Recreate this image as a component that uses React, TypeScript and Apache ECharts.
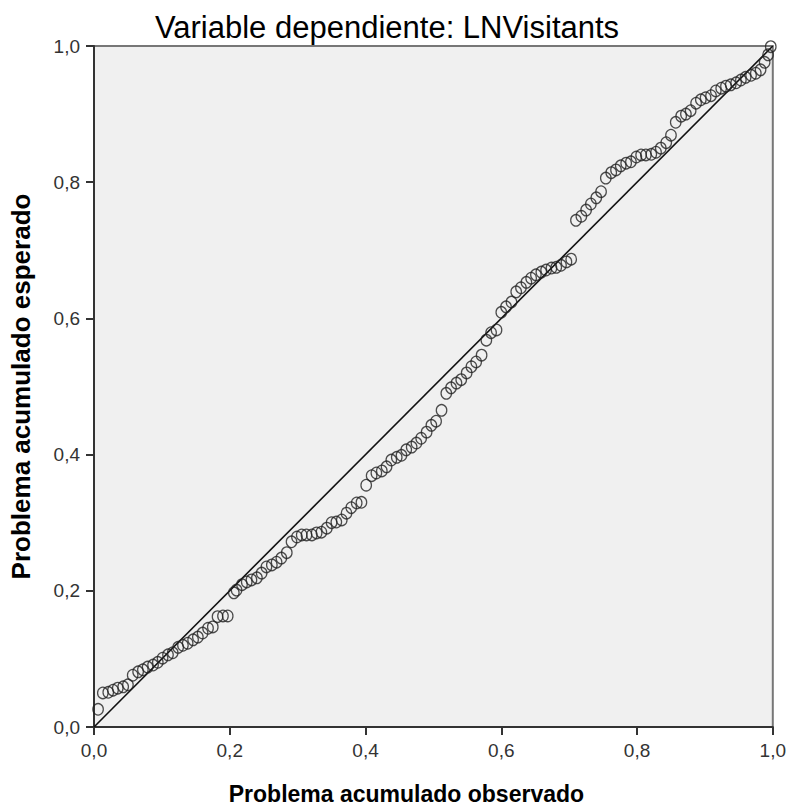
import React, { useEffect, useRef } from "react";
import * as echarts from "echarts";

const titleText = "Variable dependiente: LNVisitants";
const xAxisName = "Problema acumulado observado";
const yAxisName = "Problema acumulado esperado";
const tickValues = [0, 0.2, 0.4, 0.6, 0.8, 1.0];

const observed = [
  0.006, 0.013, 0.021, 0.028, 0.035, 0.043, 0.05, 0.057, 0.065, 0.072,
  0.079, 0.087, 0.094, 0.101, 0.109, 0.116, 0.124, 0.131, 0.138, 0.146,
  0.153, 0.16, 0.168, 0.175, 0.182, 0.19, 0.197, 0.206, 0.21, 0.218,
  0.225, 0.232, 0.24, 0.247, 0.254, 0.262, 0.269, 0.276, 0.284, 0.291,
  0.299, 0.306, 0.313, 0.321, 0.328, 0.335, 0.343, 0.35, 0.357, 0.365,
  0.372, 0.379, 0.387, 0.394, 0.401, 0.409, 0.416, 0.424, 0.431, 0.438,
  0.446, 0.453, 0.46, 0.468, 0.475, 0.482, 0.49, 0.497, 0.504, 0.512,
  0.519, 0.526, 0.534, 0.541, 0.549, 0.556, 0.563, 0.571, 0.578, 0.585,
  0.593, 0.6, 0.607, 0.615, 0.622, 0.629, 0.637, 0.644, 0.651, 0.659,
  0.666, 0.674, 0.681, 0.688, 0.696, 0.703, 0.71, 0.718, 0.725, 0.732,
  0.74, 0.747, 0.754, 0.762, 0.769, 0.776, 0.784, 0.791, 0.799, 0.806,
  0.813, 0.821, 0.828, 0.835, 0.843, 0.85, 0.857, 0.865, 0.872, 0.879,
  0.887, 0.894, 0.901, 0.909, 0.916, 0.924, 0.931, 0.938, 0.946, 0.953,
  0.96, 0.968, 0.975, 0.982, 0.988, 0.993, 0.997,
];

const expected = [
  0.026, 0.05, 0.051, 0.054, 0.057, 0.059, 0.062, 0.076, 0.081, 0.084,
  0.088, 0.091, 0.095, 0.101, 0.106, 0.109, 0.117, 0.12, 0.123, 0.128,
  0.132, 0.138, 0.145, 0.147, 0.162, 0.163, 0.163, 0.197, 0.201, 0.209,
  0.213, 0.216, 0.219, 0.226, 0.235, 0.238, 0.242, 0.248, 0.256, 0.272,
  0.279, 0.282, 0.282, 0.282, 0.285, 0.286, 0.292, 0.3, 0.301, 0.304,
  0.314, 0.322, 0.329, 0.33, 0.355, 0.369, 0.373, 0.376, 0.382, 0.392,
  0.396, 0.399, 0.407, 0.411, 0.417, 0.424, 0.433, 0.443, 0.449, 0.465,
  0.49, 0.498, 0.505, 0.51, 0.52, 0.529, 0.536, 0.546, 0.568, 0.579,
  0.583, 0.609, 0.617, 0.624, 0.639, 0.645, 0.653, 0.659, 0.664, 0.668,
  0.671, 0.674, 0.675, 0.678, 0.683, 0.687, 0.744, 0.75, 0.759, 0.768,
  0.777, 0.786, 0.806, 0.814, 0.818, 0.824, 0.828, 0.83, 0.837, 0.84,
  0.84, 0.841, 0.844, 0.85, 0.858, 0.869, 0.888, 0.897, 0.9, 0.905,
  0.916, 0.921, 0.924, 0.927, 0.934, 0.938, 0.941, 0.943, 0.946, 0.95,
  0.954, 0.957, 0.96, 0.965, 0.976, 0.987, 0.999,
];

const referenceLine = [
  [0, 0],
  [1, 1],
];

const fmt = (v: number) => v.toFixed(1).replace(".", ",");

export default function App() {
  const ref = useRef<HTMLDivElement>(null);
  useEffect(() => {
    if (!ref.current) return;
    const chart = echarts.init(ref.current, null, { renderer: "svg" });
    const points = observed.map((x, i) => [x, expected[i]]);
    const axisCommon = {
      min: tickValues[0],
      max: tickValues[tickValues.length - 1],
      interval: 0.2,
      splitLine: { show: false },
      axisLine: { show: true, lineStyle: { color: "#333", width: 2 } },
      axisTick: { show: true, length: 8, lineStyle: { color: "#333", width: 2 } },
      axisLabel: {
        color: "#333",
        fontSize: 19,
        fontFamily: "Liberation Sans",
        margin: 14,
        formatter: (v: number) => fmt(v),
      },
      nameLocation: "middle" as const,
    };
    chart.setOption({
      animation: false,
      backgroundColor: "#fff",
      title: {
        text: titleText,
        left: 382,
        textAlign: "center",
        top: 7,
        textStyle: {
          fontSize: 31,
          fontWeight: "normal",
          color: "#000",
          fontFamily: "Liberation Sans",
        },
      },
      grid: {
        left: 94,
        right: 15,
        top: 46,
        bottom: 83,
        show: true,
        backgroundColor: "#f0f0f0",
        borderColor: "#777",
        borderWidth: 2,
      },
      xAxis: {
        ...axisCommon,
        type: "value",
        name: xAxisName,
        nameGap: 55,
        nameTextStyle: {
          color: "#000",
          fontSize: 23,
          fontWeight: "bold",
          fontFamily: "Liberation Sans",
          padding: [0, 54, 0, 0],
        },
      },
      yAxis: {
        ...axisCommon,
        type: "value",
        name: yAxisName,
        nameGap: 60,
        nameTextStyle: {
          color: "#000",
          fontSize: 26,
          fontWeight: "bold",
          fontFamily: "Liberation Sans",
        },
      },
      series: [
        {
          type: "line",
          data: referenceLine,
          symbol: "none",
          lineStyle: { color: "#111", width: 1.6 },
          silent: true,
          z: 2,
        },
        {
          type: "scatter",
          data: points,
          symbol: "circle",
          symbolSize: [10.5, 11.5],
          itemStyle: {
            color: "rgba(0,0,0,0)",
            borderColor: "#222",
            borderWidth: 1.3,
          },
          z: 3,
        },
      ],
    });
    return () => chart.dispose();
  }, []);
  return (
    <div
      ref={ref}
      style={{ position: "fixed", left: 0, top: 0, width: 789, height: 810 }}
    />
  );
}
